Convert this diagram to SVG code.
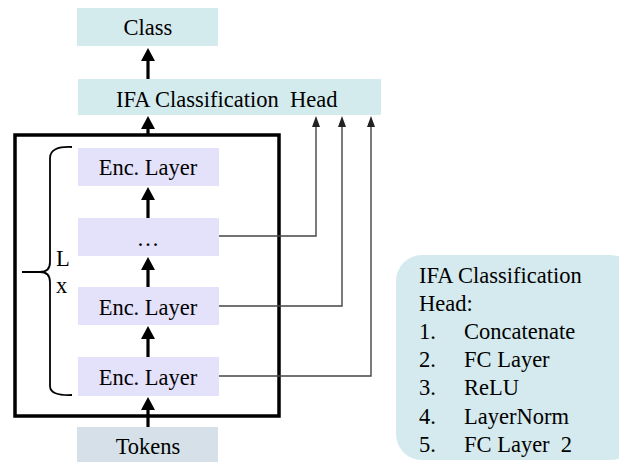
<svg xmlns="http://www.w3.org/2000/svg" width="619" height="462" viewBox="0 0 619 462">
<style>
  text { font-family: "Liberation Serif", "Times New Roman", serif; font-size: 22.5px; fill: #000; white-space: pre; }
  .c { text-anchor: middle; }
  .head { fill: #d4ebee; }
  .enc { fill: #e4e1fb; }
  .tok { fill: #d5e0e8; }
  .thick { stroke: #000; stroke-width: 3.2; fill: none; }
  .thin { stroke: #444; stroke-width: 1.4; fill: none; }
</style>
<defs>
  <marker id="ah" markerUnits="userSpaceOnUse" viewBox="0 0 13 14" markerWidth="13" markerHeight="14" refX="0" refY="7" orient="auto">
    <path d="M0,0 L13,7 L0,14 z" fill="#000"/>
  </marker>
  <marker id="as" markerUnits="userSpaceOnUse" viewBox="0 0 11 8" markerWidth="11" markerHeight="8" refX="0" refY="4" orient="auto">
    <path d="M0,0 L11,4 L0,8 z" fill="#222"/>
  </marker>
</defs>

<g id="class"><rect class="head" x="77" y="8" width="141" height="38"/><text class="c" x="148" y="35">Class</text></g>
<g id="ifa-head"><rect class="head" x="78" y="79" width="303" height="36"/><text x="116" y="107" xml:space="preserve">IFA Classification  Head</text></g>

<g id="stack"><rect x="15" y="135" width="264" height="281" fill="none" stroke="#000" stroke-width="3.5"/></g>

<g id="enc1"><rect class="enc" x="78" y="148" width="141" height="38"/><text class="c" x="148" y="175">Enc. Layer</text></g>
<g id="ellipsis"><rect class="enc" x="78" y="218" width="141" height="38"/><text class="c" x="148" y="246">…</text></g>
<g id="enc2"><rect class="enc" x="78" y="287" width="141" height="38"/><text class="c" x="148" y="315">Enc. Layer</text></g>
<g id="enc3"><rect class="enc" x="78" y="357" width="141" height="39"/><text class="c" x="148" y="385">Enc. Layer</text></g>
<g id="tokens"><rect class="tok" x="77" y="427" width="141" height="40"/><text class="c" x="148" y="454">Tokens</text></g>

<g id="brace">
  <path d="M72,147 Q50,146 50,158 V262 Q50,272 40,272 H22 M40,272 Q50,272 50,282 V386 Q50,396 72,395" fill="none" stroke="#000" stroke-width="1.8"/>
  <text x="56" y="266" font-size="20">L</text>
  <text x="56" y="293" font-size="20">x</text>
</g>

<g id="connectors">
  <line class="thick" x1="148" y1="79" x2="148" y2="61" marker-end="url(#ah)"/>
  <line class="thick" x1="148" y1="135" x2="148" y2="129" marker-end="url(#ah)"/>
  <line class="thick" x1="148" y1="218" x2="148" y2="200" marker-end="url(#ah)"/>
  <line class="thick" x1="148" y1="287" x2="148" y2="270" marker-end="url(#ah)"/>
  <line class="thick" x1="148" y1="357" x2="148" y2="339" marker-end="url(#ah)"/>
  <line class="thick" x1="148" y1="427" x2="148" y2="410" marker-end="url(#ah)"/>
  <path class="thin" d="M219,236 H316 V127" marker-end="url(#as)"/>
  <path class="thin" d="M219,306 H342 V127" marker-end="url(#as)"/>
  <path class="thin" d="M219,376 H371 V127" marker-end="url(#as)"/>
</g>

<g id="legend">
  <rect x="396" y="255" width="240" height="205" rx="26" ry="26" fill="#d4eaee"/>
  <text x="419" y="283">IFA Classification</text>
  <text x="419" y="311">Head:</text>
  <text x="419" y="339">1.</text><text x="464" y="339">Concatenate</text>
  <text x="419" y="367">2.</text><text x="464" y="367">FC Layer</text>
  <text x="419" y="395">3.</text><text x="464" y="395">ReLU</text>
  <text x="419" y="424">4.</text><text x="464" y="424">LayerNorm</text>
  <text x="419" y="452" xml:space="preserve">5.</text><text x="464" y="452" xml:space="preserve">FC Layer  2</text>
</g>
</svg>
